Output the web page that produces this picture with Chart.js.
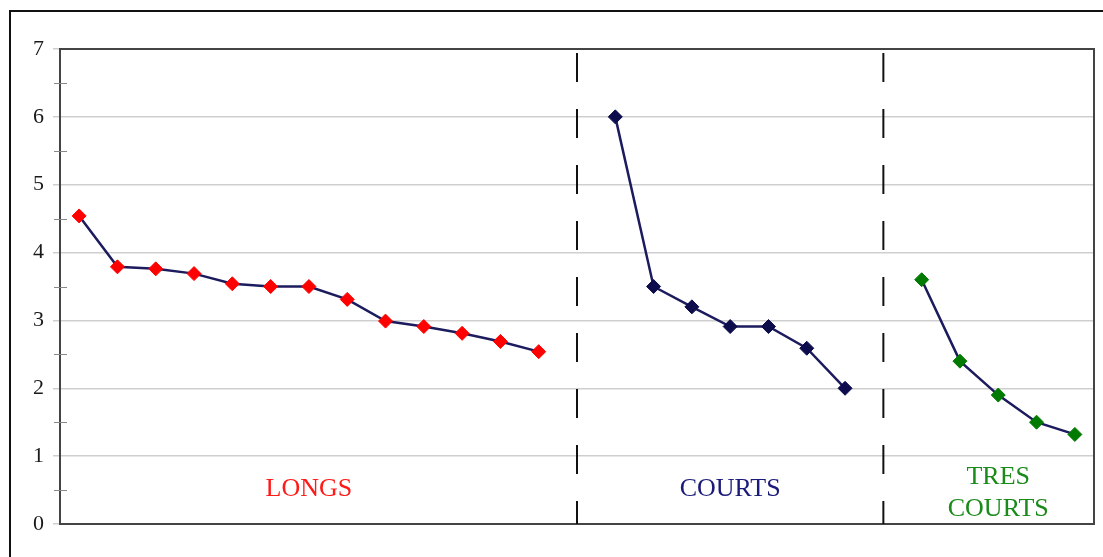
<!DOCTYPE html>
<html>
<head>
<meta charset="utf-8">
<script src="https://cdn.jsdelivr.net/npm/chart.js@4/dist/chart.umd.min.js"></script>
<style>
  html, body { margin: 0; padding: 0; background: #fff; }
  #wrap { width: 1103px; height: 557px; }
</style>
</head>
<body>
<div id="wrap"><canvas id="chart1"></canvas></div>
<script>
// 27 slots on the x axis, slots 13 and 21 are the gaps where the dashed separators sit
const slots = ['', '', '', '', '', '', '', '', '', '', '', '', '', '', '', '', '', '', '', '', '', '', '', '', '', '', ''];
const longs = [4.54, 3.79, 3.76, 3.69, 3.54, 3.5, 3.5, 3.31, 2.99, 2.91, 2.81, 2.69, 2.54];
const courts = [6.0, 3.5, 3.2, 2.91, 2.91, 2.59, 2.0];
const tresCourts = [3.6, 2.4, 1.9, 1.5, 1.32];
const groupStart = [0, 14, 22];
const separators = [13, 21];
const yTicks = [0, 1, 2, 3, 4, 5, 6, 7];

const lineColor = '#1b1b5e';
const serif = "'Liberation Serif', 'DejaVu Serif', serif";

function padded(values, start) {
    const out = slots.map(() => null);
    values.forEach(function(v, i) { out[start + i] = v; });
    return out;
}

const groupLabels = [
    { text: ['LONGS'], slot: 6, y: 0.52, color: '#ff1a1a' },
    { text: ['COURTS'], slot: 17, y: 0.52, color: '#1a1a7a' },
    { text: ['TRES', 'COURTS'], slot: 24, y: 0.69, color: '#1a8a1a' }
];

const decorations = {
    id: 'decorations',
    beforeDraw: function(chart) {
        const ctx = chart.ctx;
        ctx.save();
        ctx.strokeStyle = '#111';
        ctx.lineWidth = 2;
        ctx.strokeRect(10, 11, 1200, 700);
        ctx.restore();
    },
    beforeDatasetsDraw: function(chart) {
        const ctx = chart.ctx;
        const a = chart.chartArea;
        const x = chart.scales.x;
        const y = chart.scales.y;
        ctx.save();
        // plot frame
        ctx.strokeStyle = '#444';
        ctx.lineWidth = 2;
        ctx.strokeRect(a.left, a.top, a.right - a.left, a.bottom - a.top);
        // minor ticks at the half units
        ctx.strokeStyle = '#888';
        ctx.lineWidth = 1;
        for (let v = 0.5; v < 7; v += 1) {
            const py = Math.round(y.getPixelForValue(v)) + 0.5;
            ctx.beginPath();
            ctx.moveTo(a.left - 6, py);
            ctx.lineTo(a.left + 7, py);
            ctx.stroke();
        }
        // dashed separators
        ctx.strokeStyle = '#111';
        ctx.lineWidth = 2;
        ctx.setLineDash([29, 27]);
        separators.forEach(function(s) {
            const px = x.getPixelForValue(s);
            ctx.beginPath();
            ctx.moveTo(px, a.top + 4);
            ctx.lineTo(px, a.bottom);
            ctx.stroke();
        });
        ctx.setLineDash([]);
        // group names
        ctx.font = '26px ' + serif;
        ctx.textAlign = 'center';
        ctx.textBaseline = 'middle';
        groupLabels.forEach(function(g) {
            ctx.fillStyle = g.color;
            const px = x.getPixelForValue(g.slot);
            const py = y.getPixelForValue(g.y);
            g.text.forEach(function(t, i) {
                ctx.fillText(t, px, py + i * 32);
            });
        });
        ctx.restore();
    }
};

function series(values, start, color) {
    return {
        data: padded(values, start),
        borderColor: lineColor,
        borderWidth: 2.5,
        pointStyle: 'rectRot',
        pointRadius: 7,
        pointHoverRadius: 7,
        pointBackgroundColor: color,
        pointBorderColor: color,
        pointBorderWidth: 1,
        spanGaps: false,
        tension: 0
    };
}

new Chart(document.getElementById('chart1'), {
    type: 'line',
    data: {
        labels: slots,
        datasets: [
            series(longs, groupStart[0], '#ff0000'),
            series(courts, groupStart[1], '#0d0d4d'),
            series(tresCourts, groupStart[2], '#007a00')
        ]
    },
    options: {
        responsive: true,
        maintainAspectRatio: false,
        animation: false,
        layout: { padding: { left: 0, top: 49, right: 9, bottom: 33 } },
        plugins: { legend: { display: false }, tooltip: { enabled: false } },
        scales: {
            x: {
                type: 'category',
                offset: true,
                grid: { display: false },
                border: { display: false },
                ticks: { display: false },
                afterFit: function(s) { s.height = 0; }
            },
            y: {
                min: 0,
                max: 7,
                afterBuildTicks: function(s) { s.ticks = yTicks.map(v => ({ value: v })); },
                afterFit: function(s) { s.width = 60; },
                grid: { color: '#cfcfcf', lineWidth: 1.5, tickLength: 7, drawTicks: true },
                border: { display: false },
                ticks: {
                    font: { family: serif, size: 22 },
                    color: '#1a1a1a',
                    padding: 9
                }
            }
        }
    },
    plugins: [decorations]
});
</script>
</body>
</html>
